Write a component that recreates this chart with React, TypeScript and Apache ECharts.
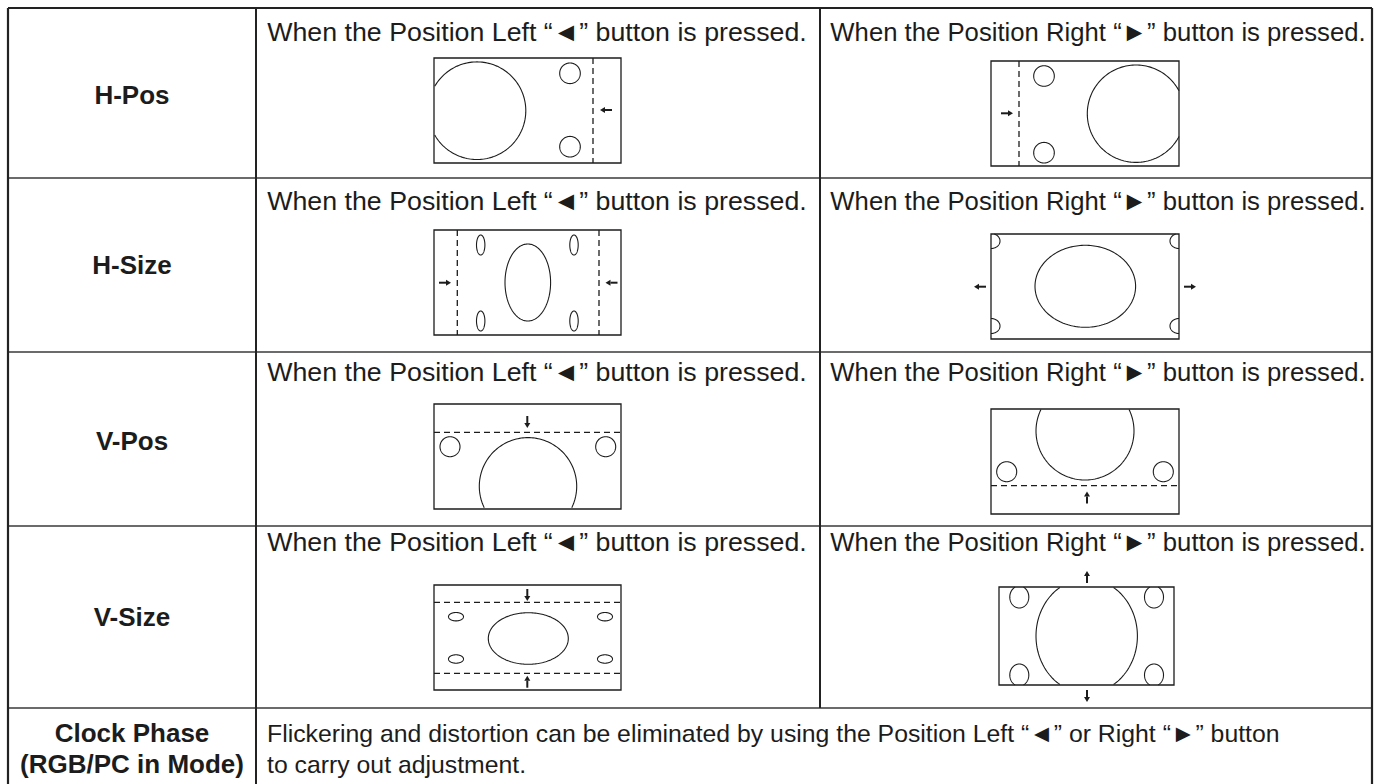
import React, { useEffect, useRef } from "react";
import * as echarts from "echarts";

const W = 1380;
const H = 784;
const colX = [8, 256, 820, 1372];
const rowY = [8, 178, 352, 526, 708];
const rowLabels = ["H-Pos", "H-Size", "V-Pos", "V-Size"];
const rowLabelY = [95, 265, 441, 617];
const captionY = [32, 201, 372, 542];
const leftCaption = "When the Position Left \u201c\u25c4\u201d button is pressed.";
const rightCaption = "When the Position Right \u201c\u25ba\u201d button is pressed.";
const lastLabel = ["Clock Phase", "(RGB/PC in Mode)"];
const lastText = [
  "Flickering and distortion can be eliminated by using the Position Left \u201c\u25c4\u201d or Right \u201c\u25ba\u201d button",
  "to carry out adjustment.",
];
const lastY = [733, 764];

// diagram specs: box [x0,y0,x1,y1]; ellipses [cx,cy,rx,ry]; dashes [x1,y1,x2,y2]; arrows [cx,cy,dir]
type Diagram = { box: number[]; ellipses: number[][]; dashes: number[][]; arrows: [number, number, string][] };
const diagrams: Diagram[] = [
  { box: [434, 58, 621, 163], ellipses: [[477, 110.7, 48.8, 48.8], [570, 73.3, 10.3, 10.3], [570, 146.7, 10.3, 10.3]], dashes: [[593, 58, 593, 163]], arrows: [[606, 110, "left"]] },
  { box: [991, 61, 1179, 166], ellipses: [[1136, 113.7, 48.7, 48.7], [1044, 76, 10.3, 10.3], [1044, 152.7, 10.3, 10.3]], dashes: [[1019, 61, 1019, 166]], arrows: [[1007, 113.3, "right"]] },
  { box: [434, 230, 621, 335], ellipses: [[527.8, 282.5, 22.8, 38.5], [480.7, 245, 4.2, 10], [574, 245, 4.2, 10], [480.7, 321, 4.2, 10], [574, 321, 4.2, 10]], dashes: [[457.3, 230, 457.3, 335], [599, 230, 599, 335]], arrows: [[445, 282.7, "right"], [611.5, 282.7, "left"]] },
  { box: [991, 234, 1179, 339], ellipses: [[1085.3, 286.3, 50.3, 41], [991, 241, 9, 7.5], [991, 326, 9, 7.5], [1179, 241, 9, 7.5], [1179, 326, 9, 7.5]], dashes: [], arrows: [[980, 286.7, "left"], [1190, 286.7, "right"]] },
  { box: [434, 404, 621, 509], ellipses: [[528, 486.3, 48.7, 48.7], [450, 446.7, 10, 10], [605.7, 446.7, 10, 10]], dashes: [[434, 432.3, 621, 432.3]], arrows: [[527.3, 422, "down"]] },
  { box: [991, 409, 1179, 514], ellipses: [[1085, 431, 49, 49], [1006.7, 471.7, 10, 10], [1163.3, 471.7, 10, 10]], dashes: [[991, 485.7, 1179, 485.7]], arrows: [[1087, 497.5, "up"]] },
  { box: [434, 585, 621, 690], ellipses: [[528.3, 638.5, 40, 25.8], [456, 616.7, 7.5, 4.2], [605, 616.7, 7.5, 4.2], [456, 659, 7.5, 4.2], [605, 659, 7.5, 4.2]], dashes: [[434, 602.3, 621, 602.3], [434, 673.3, 621, 673.3]], arrows: [[527.3, 595, "down"], [527.3, 681.7, "up"]] },
  { box: [999, 587, 1174, 685], ellipses: [[1086.7, 636, 50.7, 57.2], [1019.3, 597, 9.5, 11], [1154, 597, 9.5, 11], [1019.3, 675, 9.5, 11], [1154, 675, 9.5, 11]], dashes: [], arrows: [[1087, 577, "up"], [1087, 696, "down"]] },
];

const FONT = "'Liberation Sans', Arial, Helvetica, sans-serif";
const INK = "#1c1c1c";
const CAPTION_SIZE = 26.5;
const LABEL_SIZE = 26;
const BODY_SIZE = 24.8;

function clippedEllipse(e: number[], box: number[]): number[][][] {
  const [cx, cy, rx, ry] = e;
  const [x0, y0, x1, y1] = box;
  const N = 180;
  const pts: number[][] = [];
  const ins: boolean[] = [];
  for (let i = 0; i < N; i++) {
    const t = (i / N) * Math.PI * 2;
    const x = cx + rx * Math.cos(t);
    const y = cy + ry * Math.sin(t);
    pts.push([x, y]);
    ins.push(x >= x0 - 0.01 && x <= x1 + 0.01 && y >= y0 - 0.01 && y <= y1 + 0.01);
  }
  if (ins.every((v) => v)) return [[...pts, pts[0]]];
  const start = ins.findIndex((v) => !v);
  const runs: number[][][] = [];
  let cur: number[][] = [];
  for (let k = 0; k <= N; k++) {
    const i = (start + k) % N;
    if (ins[i]) {
      cur.push(pts[i]);
    } else if (cur.length) {
      runs.push(cur);
      cur = [];
    }
  }
  if (cur.length) runs.push(cur);
  return runs.filter((r) => r.length > 1);
}

function arrowEls(a: [number, number, string]): any[] {
  const [cx, cy, dir] = a;
  const len = 12;
  const head = 5;
  const hw = 3;
  let dx = 0, dy = 0;
  if (dir === "left") dx = -1;
  if (dir === "right") dx = 1;
  if (dir === "up") dy = -1;
  if (dir === "down") dy = 1;
  const tipX = cx + (dx * len) / 2;
  const tipY = cy + (dy * len) / 2;
  const tailX = cx - (dx * len) / 2;
  const tailY = cy - (dy * len) / 2;
  const baseX = tipX - dx * head;
  const baseY = tipY - dy * head;
  const px = -dy, py = dx;
  return [
    { type: "line", shape: { x1: tailX, y1: tailY, x2: baseX, y2: baseY }, style: { stroke: INK, lineWidth: 2 } },
    {
      type: "polygon",
      shape: { points: [[tipX, tipY], [baseX + px * hw, baseY + py * hw], [baseX - px * hw, baseY - py * hw]] },
      style: { fill: INK, stroke: null },
    },
  ];
}

function textEl(text: string, x: number, y: number, size: number, bold: boolean, align: string, scaleX = 1): any {
  return {
    type: "text",
    x,
    y,
    scaleX,
    style: {
      text,
      fontSize: size,
      fontWeight: bold ? "bold" : "normal",
      fontFamily: FONT,
      fill: INK,
      textAlign: align,
      textVerticalAlign: "middle",
      verticalAlign: "middle",
    },
  };
}

function buildGraphics(): any[] {
  const els: any[] = [];
  els.push({ type: "rect", shape: { x: 0, y: 0, width: W, height: H }, style: { fill: "#ffffff" } });
  const top = rowY[0];
  const bottom = H + 2;
  for (let i = 1; i < rowY.length; i++) {
    els.push({ type: "line", shape: { x1: colX[0], y1: rowY[i], x2: colX[3], y2: rowY[i] }, style: { stroke: "#3a3a3a", lineWidth: 1.6 } });
  }
  els.push({ type: "line", shape: { x1: colX[0], y1: top, x2: colX[3], y2: top }, style: { stroke: "#222", lineWidth: 2.2 } });
  els.push({ type: "line", shape: { x1: colX[0], y1: top, x2: colX[0], y2: bottom }, style: { stroke: "#222", lineWidth: 2.2 } });
  els.push({ type: "line", shape: { x1: colX[3], y1: top, x2: colX[3], y2: bottom }, style: { stroke: "#222", lineWidth: 2.2 } });
  els.push({ type: "line", shape: { x1: colX[1], y1: top, x2: colX[1], y2: bottom }, style: { stroke: "#222", lineWidth: 2 } });
  els.push({ type: "line", shape: { x1: colX[2], y1: top, x2: colX[2], y2: rowY[4] }, style: { stroke: "#222", lineWidth: 2 } });

  const labelX = (colX[0] + colX[1]) / 2;
  const leftX = 537;
  const rightX = 1098;
  rowLabels.forEach((lab, i) => {
    els.push(textEl(lab, labelX, rowLabelY[i], LABEL_SIZE, true, "center"));
    els.push(textEl(leftCaption, leftX, captionY[i], CAPTION_SIZE, false, "center", 1.01));
    els.push(textEl(rightCaption, rightX, captionY[i], CAPTION_SIZE, false, "center", 0.97));
  });
  lastLabel.forEach((lab, i) => els.push(textEl(lab, labelX, lastY[i], LABEL_SIZE, true, "center")));
  lastText.forEach((t, i) => els.push(textEl(t, 267, lastY[i], BODY_SIZE, false, "left")));

  diagrams.forEach((d) => {
    const [x0, y0, x1, y1] = d.box;
    els.push({ type: "rect", shape: { x: x0, y: y0, width: x1 - x0, height: y1 - y0 }, style: { fill: "none", stroke: INK, lineWidth: 1.3 } });
    d.dashes.forEach((s) => {
      els.push({ type: "line", shape: { x1: s[0], y1: s[1], x2: s[2], y2: s[3] }, style: { stroke: INK, lineWidth: 1.3, lineDash: [6, 4] } });
    });
    d.ellipses.forEach((e) => {
      clippedEllipse(e, d.box).forEach((pts) => {
        els.push({ type: "polyline", shape: { points: pts }, style: { fill: "none", stroke: INK, lineWidth: 1.1 } });
      });
    });
    d.arrows.forEach((a) => arrowEls(a).forEach((el) => els.push(el)));
  });
  return els;
}

export default function App() {
  const ref = useRef<HTMLDivElement>(null);
  useEffect(() => {
    if (!ref.current) return;
    const chart = echarts.init(ref.current, undefined, { renderer: "svg" });
    chart.setOption({ animation: false, graphic: { elements: buildGraphics() } });
    return () => chart.dispose();
  }, []);
  return <div ref={ref} style={{ position: "fixed", left: 0, top: 0, width: W, height: H, background: "#fff" }} />;
}
